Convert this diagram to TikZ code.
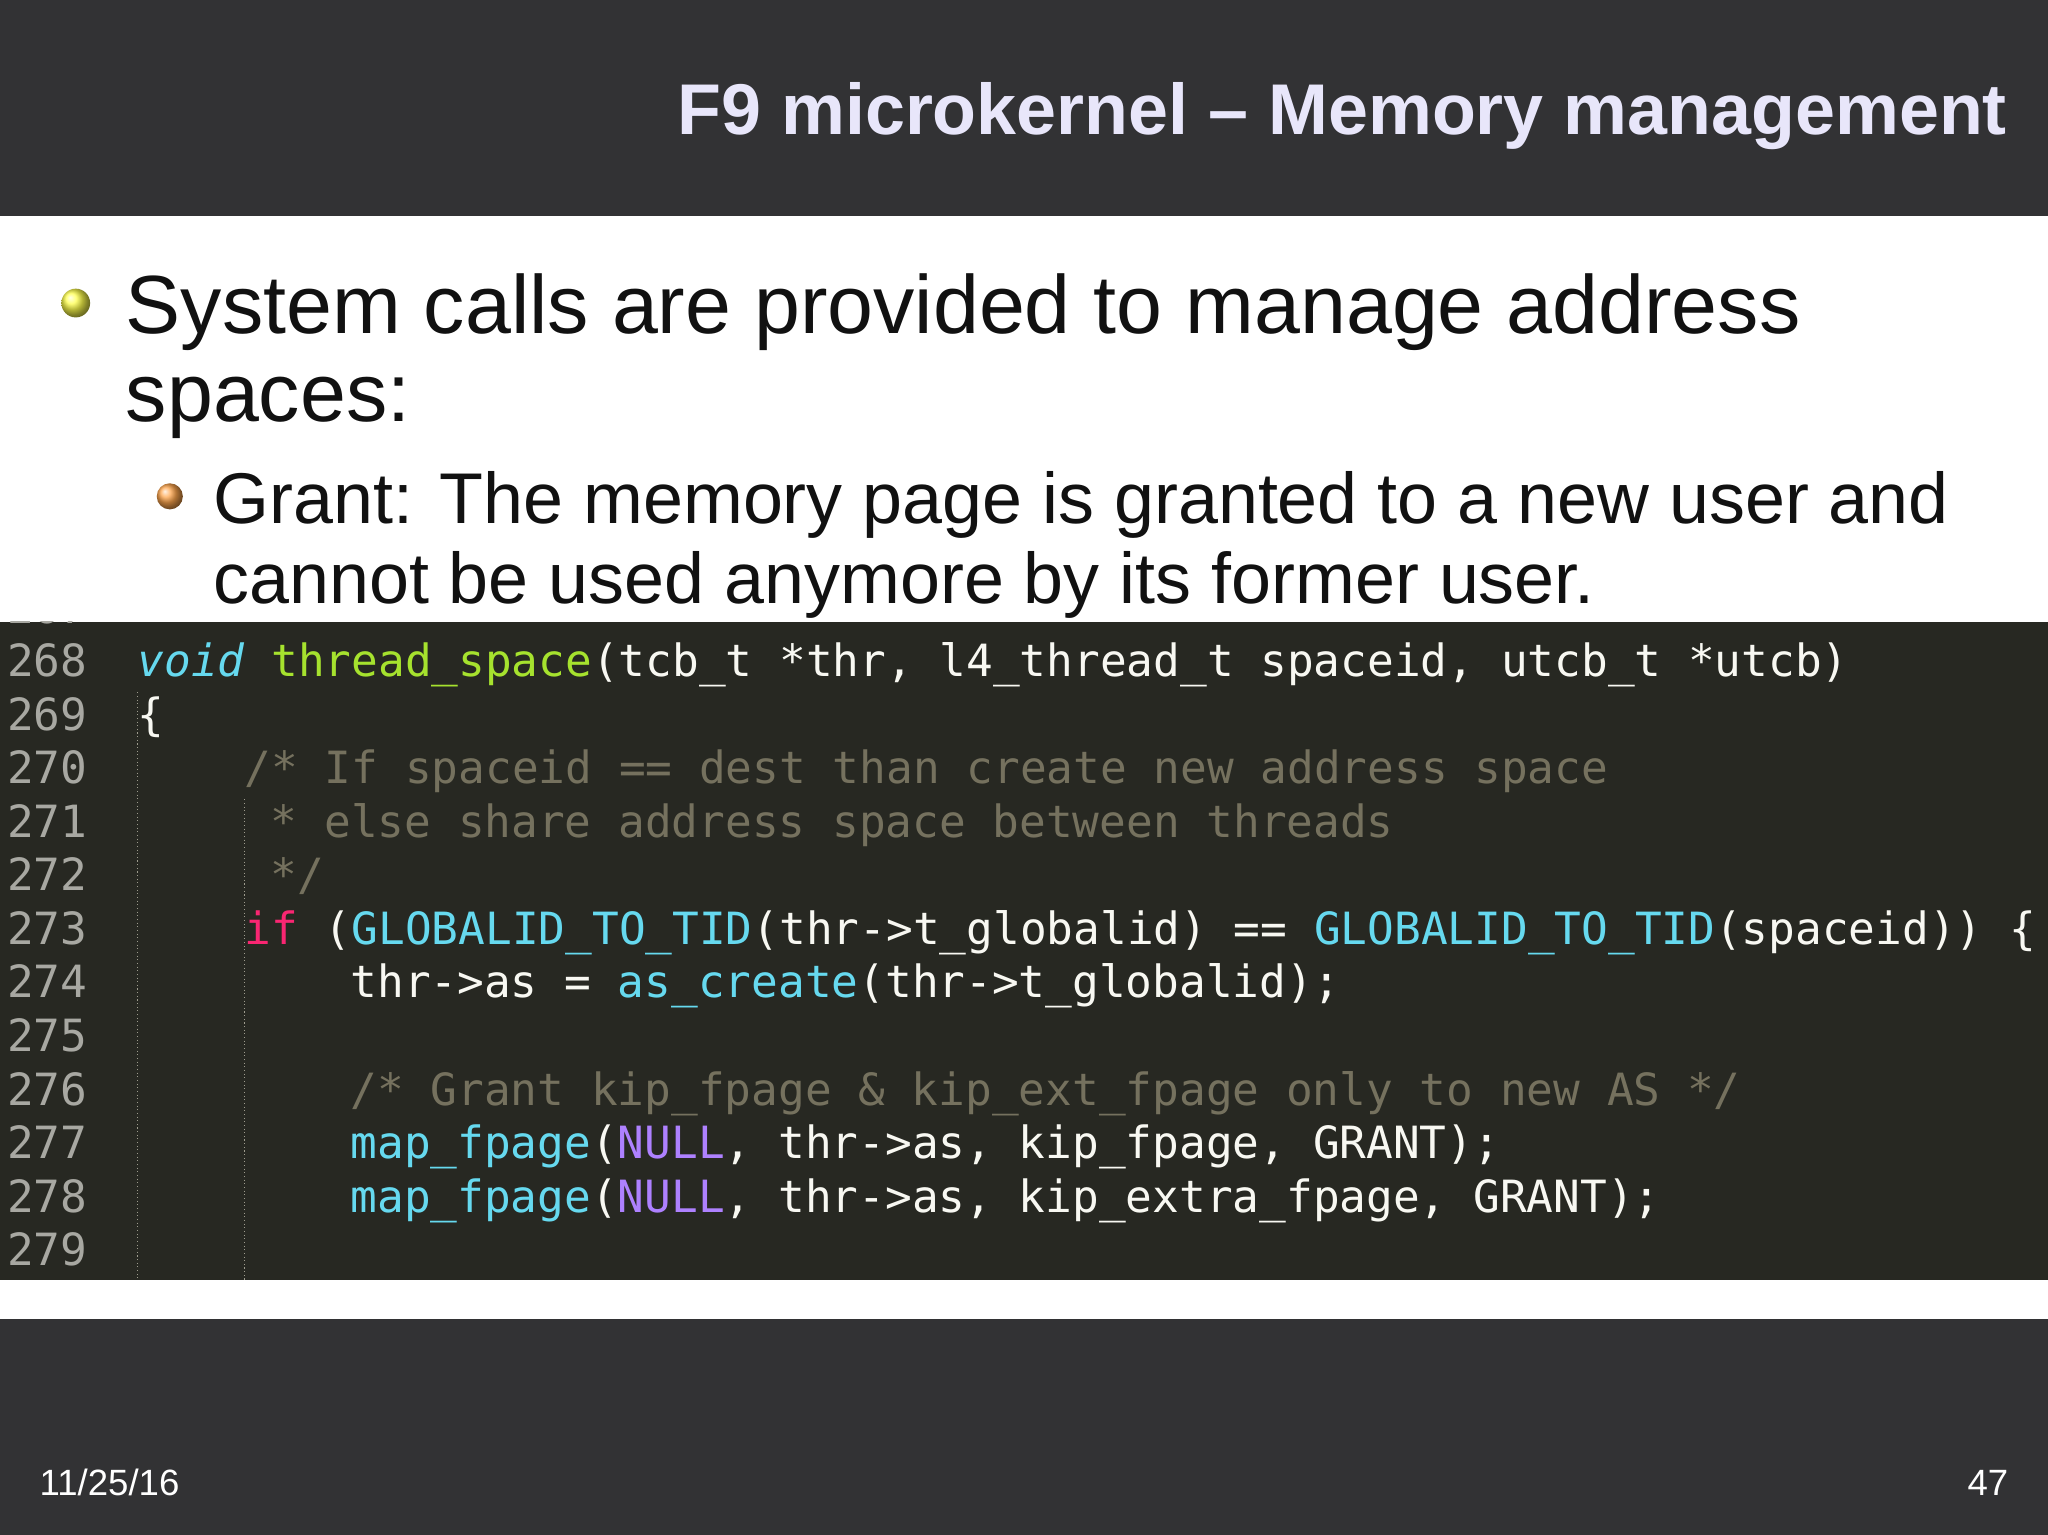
\documentclass[tikz,border=0pt]{standalone}
\usepackage{fontspec}
\setmainfont{Liberation Sans}
\newfontfamily\codefont{DejaVu Sans Mono}
\definecolor{bar}{HTML}{323234}
\definecolor{ttl}{HTML}{E8E6FA}
\definecolor{cbg}{HTML}{272822}
\definecolor{cfg}{HTML}{F8F8F2}
\definecolor{ccm}{HTML}{75715E}
\definecolor{ckw}{HTML}{66D9EF}
\definecolor{cfn}{HTML}{A6E22E}
\definecolor{cpk}{HTML}{F92672}
\definecolor{cpu}{HTML}{AE81FF}
\definecolor{cln}{HTML}{A8A8A2}
\definecolor{txt}{HTML}{111111}
\newcommand{\kw}[1]{\textcolor{ckw}{#1}}
\newcommand{\fn}[1]{\textcolor{cfn}{#1}}
\newcommand{\pk}[1]{\textcolor{cpk}{#1}}
\newcommand{\pu}[1]{\textcolor{cpu}{#1}}
\newcommand{\cm}[1]{\textcolor{ccm}{#1}}
\begin{document}
\begin{tikzpicture}[x=0.5pt,y=-0.5pt,
  code/.style={anchor=base west,inner sep=0,font=\codefont\fontsize{17pt}{20pt}\selectfont,text=cfg},
  lnum/.style={anchor=base west,inner sep=0,font=\codefont\fontsize{17pt}{20pt}\selectfont,text=cln}]
\useasboundingbox (0,0) rectangle (1568,1175);
\fill[white] (0,0) rectangle (1568,1175);
\fill[bar] (0,0) rectangle (1568,165);
\fill[bar] (0,1010) rectangle (1568,1175);
\node[anchor=base east,inner sep=0,text=ttl,font=\bfseries\fontsize{27.5pt}{32pt}\selectfont] (title) at (1537,103) {F9 microkernel – Memory management};
\node[anchor=base west,inner sep=0,text=white,font=\fontsize{14pt}{16pt}\selectfont] (date) at (30,1145) {11/25/16};
\node[anchor=base east,inner sep=0,text=white,font=\fontsize{14pt}{16pt}\selectfont] (page) at (1538,1145) {47};
% bullets
\shade[ball color=yellow!70!white] (58,232) circle (11);
\shade[ball color=orange!70!white] (130,380) circle (10);
\node[anchor=base west,inner sep=0,text=txt,font=\fontsize{31.6pt}{36pt}\selectfont] (b1) at (96,255) {System calls are provided to manage address};
\node[anchor=base west,inner sep=0,text=txt,font=\fontsize{31.6pt}{36pt}\selectfont] (b1b) at (96,323) {spaces:};
\node[anchor=base west,inner sep=0,text=txt,font=\fontsize{27.5pt}{32pt}\selectfont] (b2) at (163,401) {Grant: The memory page is granted to a new user and};
\node[anchor=base west,inner sep=0,text=txt,font=\fontsize{27.5pt}{32pt}\selectfont] (b2b) at (163,462) {cannot be used anymore by its former user.};
% code
\fill[cbg] (0,476) rectangle (1568,980);
\begin{scope}
\clip (0,476) rectangle (1568,980);
\draw[ccm!70,densely dotted] (105,530) -- (105,980);
\draw[ccm!70,densely dotted] (187,612) -- (187,980);
\node[lnum] (l267) at (5,477) {267};
\node[lnum] (l268) at (5,518) {268};
\node[lnum] (l269) at (5,559) {269};
\node[lnum] (l270) at (5,600) {270};
\node[lnum] (l271) at (5,641) {271};
\node[lnum] (l272) at (5,682) {272};
\node[lnum] (l273) at (5,723) {273};
\node[lnum] (l274) at (5,764) {274};
\node[lnum] (l275) at (5,805) {275};
\node[lnum] (l276) at (5,846) {276};
\node[lnum] (l277) at (5,887) {277};
\node[lnum] (l278) at (5,928) {278};
\node[lnum] (l279) at (5,969) {279};
\end{scope}
\node[code] (c268) at (105,518) {\kw{\itshape void} \fn{thread\_space}(tcb\_t *thr, l4\_thread\_t spaceid, utcb\_t *utcb)};
\node[code] (c269) at (105,559) {\{};
\node[code] (c270) at (187,600) {\cm{/* If spaceid == dest than create new address space}};
\node[code] (c271) at (207,641) {\cm{* else share address space between threads}};
\node[code] (c272) at (207,682) {\cm{*/}};
\node[code] (c273) at (187,723) {\pk{if} (\kw{GLOBALID\_TO\_TID}(thr->t\_globalid) == \kw{GLOBALID\_TO\_TID}(spaceid)) \{};
\node[code] (c274) at (268,764) {thr->as = \kw{as\_create}(thr->t\_globalid);};
\node[code] (c276) at (268,846) {\cm{/* Grant kip\_fpage \& kip\_ext\_fpage only to new AS */}};
\node[code] (c277) at (268,887) {\kw{map\_fpage}(\pu{NULL}, thr->as, kip\_fpage, GRANT);};
\node[code] (c278) at (268,928) {\kw{map\_fpage}(\pu{NULL}, thr->as, kip\_extra\_fpage, GRANT);};
\end{tikzpicture}
\end{document}
